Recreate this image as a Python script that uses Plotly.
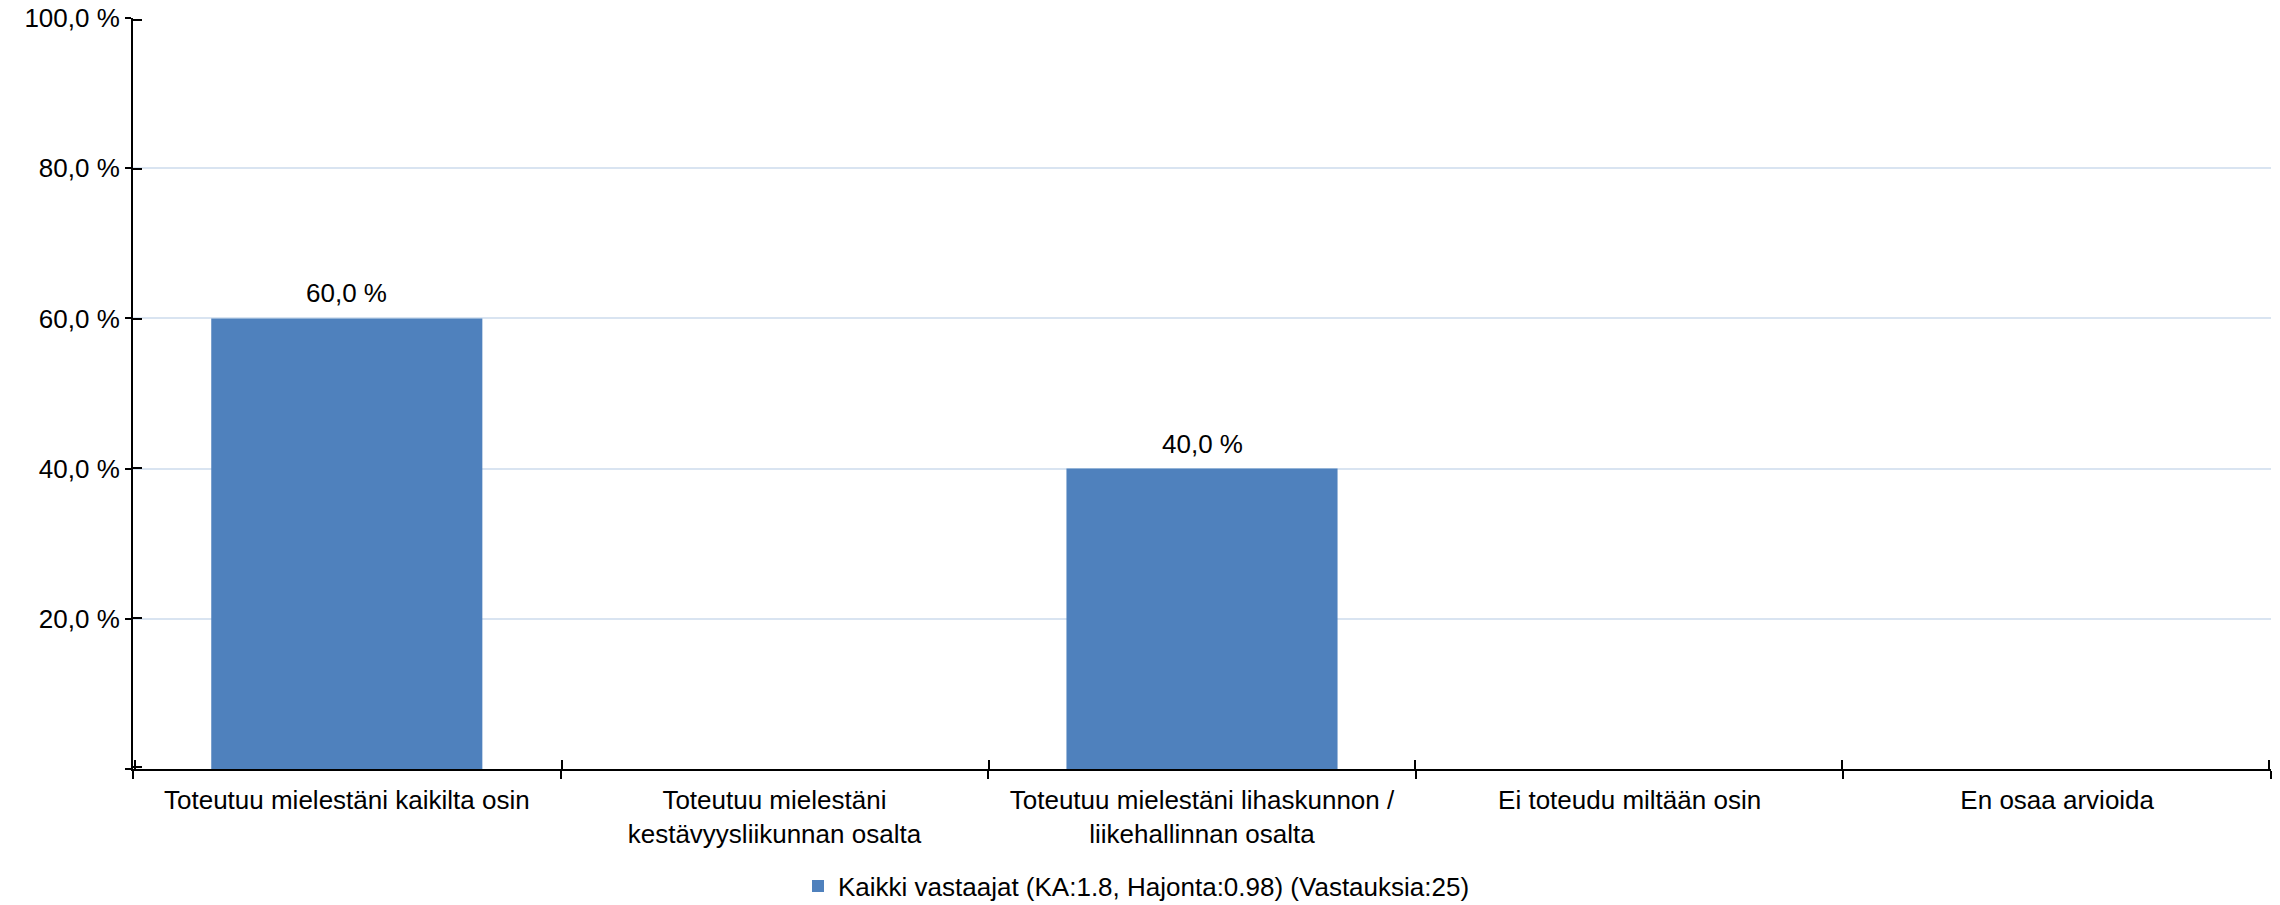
import plotly.graph_objects as go

categories = [
    "Toteutuu mielestäni kaikilta osin",
    "Toteutuu mielestäni<br>kestävyysliikunnan osalta",
    "Toteutuu mielestäni lihaskunnon /<br>liikehallinnan osalta",
    "Ei toteudu miltään osin",
    "En osaa arvioida",
]
values = [60.0, 0.0, 40.0, 0.0, 0.0]
series_name = "Kaikki vastaajat (KA:1.8, Hajonta:0.98) (Vastauksia:25)"
y_ticks = [0, 20, 40, 60, 80, 100]
y_tick_labels = ["", "20,0 %", "40,0 %", "60,0 %", "80,0 %", "100,0 %"]

FONT = "Liberation Sans, Arial, sans-serif"
BAR = "#4F81BD"
GRID = "#D9E4F1"

labels = [(f"{v:.1f} %".replace(".", ",") if v > 0 else "") for v in values]

fig = go.Figure()
fig.add_trace(go.Bar(
    x=categories, y=values, name=series_name,
    marker=dict(color=BAR, line=dict(width=0)),
    showlegend=True, hoverinfo="skip",
))
# invisible helper trace on overlay axes (inside halves of the crossing ticks)
fig.add_trace(go.Scatter(x=categories, y=values, xaxis="x2", yaxis="y2",
                         mode="markers", marker=dict(opacity=0), showlegend=False,
                         hoverinfo="skip"))

for c, v, t in zip(categories, values, labels):
    if t:
        fig.add_annotation(x=c, y=v, xref="x", yref="y", text=t, showarrow=False,
                           yanchor="bottom", yshift=8,
                           font=dict(family=FONT, size=26, color="#000000"))

fig.update_layout(
    width=2280, height=905,
    margin=dict(l=133, r=9, t=18, b=136, pad=0, autoexpand=False),
    paper_bgcolor="white", plot_bgcolor="white",
    font=dict(family=FONT, size=26, color="#000000"),
    bargap=0.366,
    showlegend=True,
    legend=dict(orientation="h", xref="container", yref="container",
                x=0.350, xanchor="left", y=0.021, yanchor="middle",
                font=dict(family=FONT, size=26, color="#000000"),
                bgcolor="rgba(0,0,0,0)"),
    xaxis=dict(
        type="category", categoryorder="array", categoryarray=categories,
        range=[-0.5, 4.5], tickson="boundaries", automargin=False,
        ticks="outside", ticklen=8, tickwidth=2, tickcolor="#000000",
        showline=True, linecolor="#000000", linewidth=2,
        showgrid=False, zeroline=False, ticklabelstandoff=7,
        tickfont=dict(family=FONT, size=26, color="#000000"),
    ),
    xaxis2=dict(
        type="category", categoryorder="array", categoryarray=categories,
        range=[-0.504, 4.504], tickson="boundaries", overlaying="x",
        anchor="y", side="bottom", automargin=False,
        ticks="inside", ticklen=9, tickwidth=2, tickcolor="#000000",
        showticklabels=False, showline=False, showgrid=False, zeroline=False,
    ),
    yaxis=dict(
        range=[0, 100], tickvals=y_ticks, ticktext=y_tick_labels, automargin=False,
        ticks="outside", ticklen=6, tickwidth=2, tickcolor="#000000",
        showline=True, linecolor="#000000", linewidth=2,
        showgrid=True, gridcolor=GRID, gridwidth=2, zeroline=False,
        tickfont=dict(family=FONT, size=26, color="#000000"),
    ),
    yaxis2=dict(
        range=[-0.25, 100.25], tickvals=y_ticks, overlaying="y", anchor="x",
        side="left", automargin=False,
        ticks="inside", ticklen=9, tickwidth=2, tickcolor="#000000",
        showticklabels=False, showline=False, showgrid=False, zeroline=False,
    ),
)

fig.write_html("out.html", config={"displayModeBar": False},
               post_script="document.body.style.margin='0';")
